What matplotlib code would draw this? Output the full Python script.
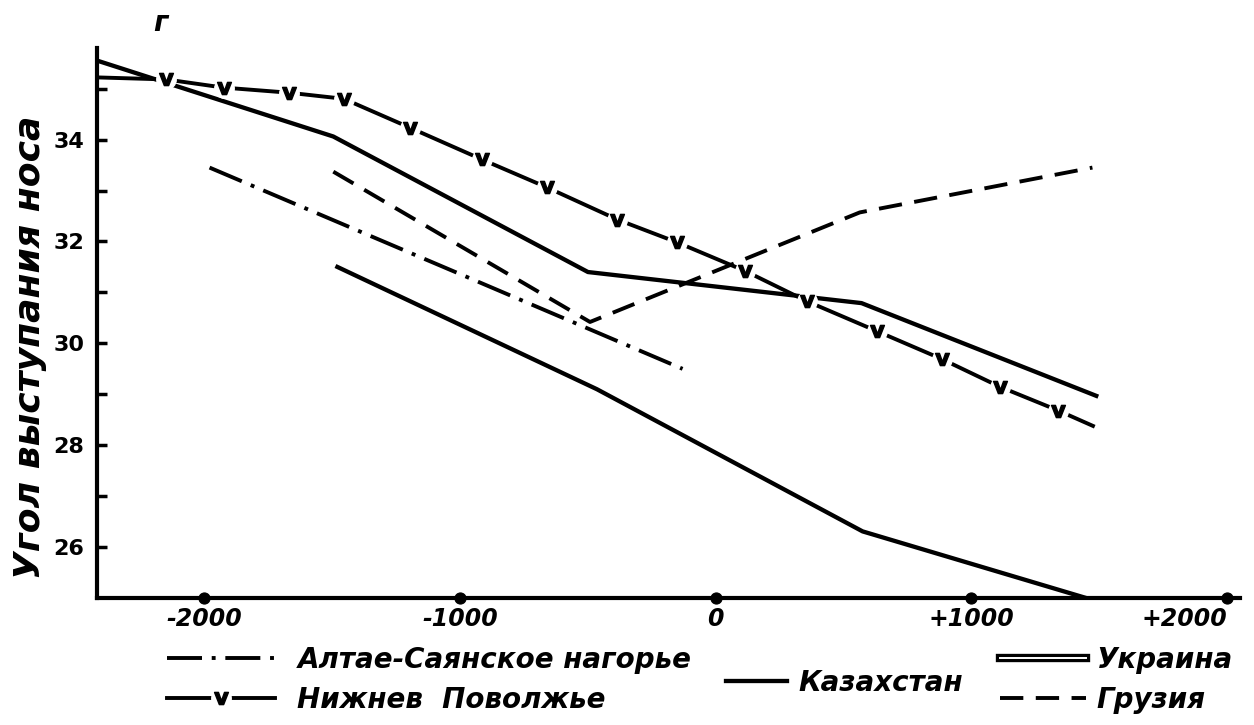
import matplotlib.pyplot as plt
from matplotlib.lines import Line2D
from matplotlib.legend_handler import HandlerTuple
import matplotlib.patheffects as pe

# years (negative = BC) and nasal protrusion angle, by region
altai_x = [-1980, -1000, -130]
altai_y = [33.45, 31.36, 29.5]

kazakh_x = [-2420, -1496, -500, 570, 1488]
kazakh_y = [35.55, 34.06, 31.40, 30.79, 28.97]

ukraine_x = [-1480, -465, 574, 1450]
ukraine_y = [31.50, 29.10, 26.31, 25.0]

volga_x = [-2420, -2150, -1925, -1670, -1455, -1195, -915, -660, -385,
           -150, 115, 355, 630, 885, 1110, 1340, 1475]
volga_y = [35.22, 35.18, 35.02, 34.92, 34.80, 34.23, 33.61, 33.06, 32.43,
           31.98, 31.42, 30.83, 30.24, 29.69, 29.15, 28.68, 28.38]

georgia_x = [-1496, -492, 563, 1473]
georgia_y = [33.37, 30.42, 32.57, 33.45]

xticks = [-2000, -1000, 0, 1000, 2000]
xtick_labels = ['-2000', '-1000', '0', '+1000', '+2000']
yticks = [26, 28, 30, 32, 34]

labels = {
    'altai': 'Алтае-Саянское нагорье',
    'volga': 'Нижнев  Поволжье',
    'kazakh': 'Казахстан',
    'ukraine': 'Украина',
    'georgia': 'Грузия',
}

plt.rcParams['font.family'] = ['DejaVu Sans']

fig = plt.figure(figsize=(12.54, 7.25), dpi=100)
ax = fig.add_axes([0.0774, 0.175, 0.9114, 0.759])

lw = 2.8
v_marker = '$\\mathbf{v}$'
l_altai, = ax.plot(altai_x, altai_y, color='black', lw=lw,
                   dashes=(9, 2.5, 1, 2.5), solid_capstyle='butt')
l_kaz, = ax.plot(kazakh_x, kazakh_y, color='black', lw=3.1)
ax.plot(ukraine_x, ukraine_y, color='black', lw=3.1)
l_geo, = ax.plot(georgia_x, georgia_y, color='black', lw=lw, dashes=(6, 3.2))

# Volga line: solid line broken by white gaps holding a "v" mark
l_volga, = ax.plot(volga_x, volga_y, color='black', lw=lw)
ax.plot(volga_x, volga_y, ls='none', marker='o', ms=14,
        mfc='white', mec='white', markevery=slice(1, -1))
ax.plot(volga_x, volga_y, ls='none', marker=v_marker, ms=10,
        color='black', markevery=slice(1, -1))

ax.set_xlim(-2420, 2050)
ax.set_ylim(25, 35.8)

for side in ['top', 'right']:
    ax.spines[side].set_visible(False)
for side in ['left', 'bottom']:
    ax.spines[side].set_linewidth(3)

ax.set_yticks(yticks)
ax.set_yticks([27, 29, 31, 33, 35], minor=True)
ax.tick_params(axis='y', which='both', direction='in', length=7, width=2.5,
               pad=9, labelsize=16)
for t in ax.get_yticklabels():
    t.set_fontweight('bold')

ax.set_xticks(xticks)
ax.set_xticklabels(xtick_labels, fontsize=17, fontweight='bold', style='italic')
ax.get_xticklabels()[-1].set_horizontalalignment('right')
ax.tick_params(axis='x', pad=3)
for tk in ax.xaxis.get_major_ticks():
    tk.tick1line.set_marker('o')
    tk.tick1line.set_markersize(8)
    tk.tick1line.set_markerfacecolor('black')
    tk.tick1line.set_markeredgecolor('black')

ax.set_ylabel('Угол выступания носа', fontsize=26, fontweight='bold',
              style='italic')
ax.yaxis.set_label_coords(-0.044, 0.455)

fig.text(0.128, 0.968, 'г', fontsize=20, fontweight='bold', style='italic',
         ha='center', va='center')

# legend in three groups, as printed under the axis
font = {'size': 20, 'weight': 'bold', 'style': 'italic'}
ukr_proxy = Line2D([], [], color='white', lw=1.4,
                   path_effects=[pe.Stroke(linewidth=6, foreground='black'),
                                 pe.Normal()])
gap_proxy = Line2D([], [], ls='none', marker='o', ms=14, mfc='white', mec='white')
v_proxy = Line2D([], [], ls='none', marker=v_marker, ms=10, color='black')

leg1 = fig.legend([l_altai, (l_volga, gap_proxy, v_proxy)],
                  [labels['altai'], labels['volga']],
                  handler_map={tuple: HandlerTuple(ndivide=1, pad=0)},
                  loc='upper left', bbox_to_anchor=(0.122, 0.128),
                  frameon=False, prop=font, handlelength=3.9,
                  handletextpad=0.8, labelspacing=0.42, borderpad=0)
leg2 = fig.legend([l_kaz], [labels['kazakh']], loc='center left',
                  bbox_to_anchor=(0.568, 0.058), frameon=False, prop=font,
                  handlelength=2.2, handletextpad=0.4, borderpad=0)
leg3 = fig.legend([ukr_proxy, l_geo], [labels['ukraine'], labels['georgia']],
                  loc='upper left', bbox_to_anchor=(0.786, 0.128),
                  frameon=False, prop=font, handlelength=3.1,
                  handletextpad=0.4, labelspacing=0.42, borderpad=0)

fig.savefig('out.png', dpi=100)
